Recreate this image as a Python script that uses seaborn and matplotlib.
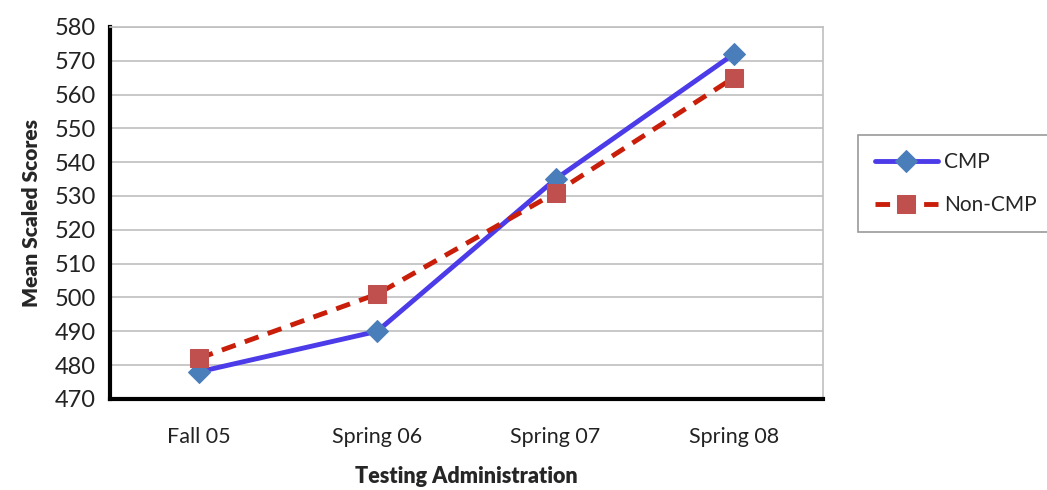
import matplotlib
matplotlib.use('Agg')
import matplotlib.pyplot as plt
import seaborn as sns
import pandas as pd
import numpy as np

# values
admins = ['Fall 05', 'Spring 06', 'Spring 07', 'Spring 08']
cmp_scores = [478, 490, 535, 572]
noncmp_scores = [482, 501, 531, 565]

df = pd.DataFrame({'Admin': admins, 'CMP': cmp_scores, 'Non-CMP': noncmp_scores})

sns.set_style('white')
plt.rcParams['font.family'] = ['Lato', 'DejaVu Sans']

fig = plt.figure(figsize=(10.47, 4.9), dpi=100)
ax = fig.add_axes([0.105, 0.186, 0.681, 0.759])

sns.lineplot(x='Admin', y='CMP', data=df, ax=ax, color='#4B3BE8', linewidth=3.5,
             marker='D', markersize=11, markerfacecolor='#4A7EBB', markeredgecolor='#4A7EBB',
             label='CMP', sort=False)
sns.lineplot(x='Admin', y='Non-CMP', data=df, ax=ax, color='#C81E0A', linewidth=3.5,
             linestyle=(0, (3, 2)), marker='s', markersize=13, markerfacecolor='#C0504D',
             markeredgecolor='#C0504D', label='Non-CMP', sort=False)

ax.set_xlim(-0.5, 3.5)
ax.set_ylim(470, 580)
ax.set_yticks(np.arange(470, 581, 10))
ax.yaxis.grid(True, color='#BFBFBF', linewidth=1.2)
ax.set_axisbelow(True)

ax.set_xticks(range(len(admins)))
ax.set_xticklabels(admins)
ax.set_xticks(np.arange(-0.5, 4, 1), minor=True)
ax.tick_params(axis='x', which='major', length=0, labelsize=15.5, pad=20, labelcolor='#222222')
ax.tick_params(axis='x', which='minor', length=8, width=2.5, direction='out', color='black')
ax.tick_params(axis='y', length=6, width=2.5, direction='out', labelsize=17, color='black',
               labelcolor='#222222', pad=4)

for s in ['left', 'bottom']:
    ax.spines[s].set_linewidth(3)
    ax.spines[s].set_color('black')
for s in ['top', 'right']:
    ax.spines[s].set_linewidth(1.2)
    ax.spines[s].set_color('#BFBFBF')

ax.set_ylabel('Mean Scaled Scores', fontsize=15, fontweight='heavy', labelpad=10)
ax.set_xlabel('Testing Administration', fontsize=15.5, fontweight='heavy', labelpad=14)

leg = ax.legend(loc='upper left', bbox_to_anchor=(0.81, 0.745), bbox_transform=fig.transFigure,
                fontsize=15, frameon=True, fancybox=False, handlelength=3.0,
                labelspacing=1.1, borderpad=0.8, handletextpad=0.3)
leg.get_frame().set_edgecolor('#808080')
leg.get_frame().set_linewidth(1.2)

fig.savefig('out.png', dpi=100)
